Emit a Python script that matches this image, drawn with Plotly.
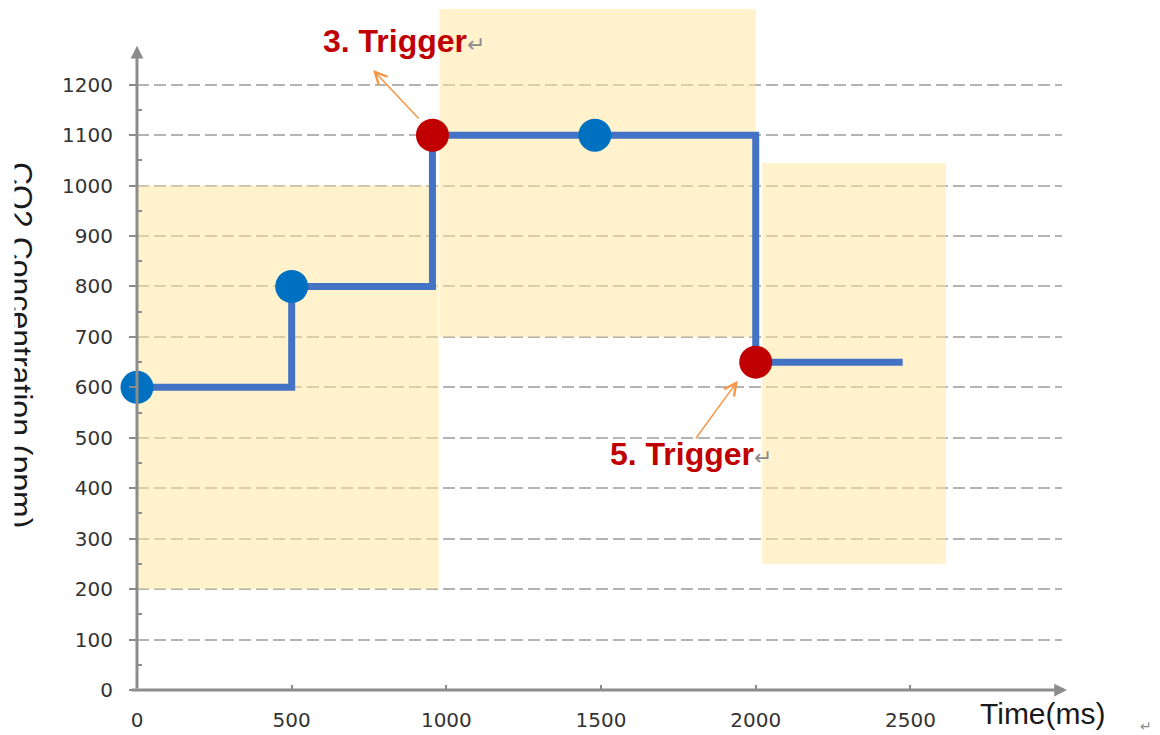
import plotly.graph_objects as go

# Step profile of CO2 concentration over time
step_time = [0, 500, 955, 2000, 2475]
step_ppm = [600, 800, 1100, 650, 650]

# Sample points (blue) and trigger points (red)
sample_time = [0, 500, 1480]
sample_ppm = [600, 800, 1100]
trigger_time = [955, 2000]
trigger_ppm = [1100, 650]

# Highlighted time windows: (x0, x1, y0, y1)
windows = [
    (0, 975, 200, 1000),
    (978, 2000, 700, 1350),
    (2021, 2615, 250, 1045),
]

y_ticks = list(range(0, 1201, 100))
y_minor = list(range(50, 1151, 100))
x_ticks = [0, 500, 1000, 1500, 2000, 2500]
x_tick_text = ["0", "500", "1000", "1500", "2000", "2500"]

AXIS_GRAY = "#8C8C8C"
TICK_FONT = dict(family="DejaVu Sans", size=20, color="#333333")
RETURN_MARK = "<span style='color:#8C8C8C;font-size:22px;font-weight:normal'>↵</span>"

fig = go.Figure()

fig.add_trace(go.Scatter(
    x=step_time, y=step_ppm, mode="lines", line_shape="hv",
    line=dict(color="#4472C4", width=7), hoverinfo="skip", showlegend=False,
    cliponaxis=False,
))
fig.add_trace(go.Scatter(
    x=sample_time, y=sample_ppm, mode="markers",
    marker=dict(size=33, color="#0070C0"), showlegend=False, cliponaxis=False,
))
fig.add_trace(go.Scatter(
    x=trigger_time, y=trigger_ppm, mode="markers",
    marker=dict(size=33, color="#C00000"), showlegend=False, cliponaxis=False,
))

for x0, x1, y0, y1 in windows:
    fig.add_shape(type="rect", xref="x", yref="y", x0=x0, x1=x1, y0=y0, y1=y1,
                  fillcolor="rgba(255,229,153,0.5)", line_width=0, layer="between")

annotations = [
    # axis lines with arrow heads
    dict(x=(1067 - 137) / 925, y=0, ax=-937, ay=0, xref="paper", yref="paper",
         axref="pixel", ayref="pixel",
         text="", showarrow=True, arrowhead=2, arrowsize=0.85, arrowwidth=3,
         arrowcolor=AXIS_GRAY, standoff=0),
    dict(x=0, y=1277, ax=0, ay=0, xref="x", yref="y", axref="x", ayref="y",
         text="", showarrow=True, arrowhead=2, arrowsize=0.85, arrowwidth=3,
         arrowcolor=AXIS_GRAY, standoff=0),
    # trigger call-outs
    dict(x=763, y=1229, ax=915, ay=1130, xref="x", yref="y", axref="x", ayref="y",
         text="", showarrow=True, arrowhead=5, arrowsize=1.6, arrowwidth=1.5,
         arrowcolor="#F79646", standoff=0),
    dict(x=1942, y=613, ax=1803, ay=496, xref="x", yref="y", axref="x", ayref="y",
         text="", showarrow=True, arrowhead=5, arrowsize=1.6, arrowwidth=1.5,
         arrowcolor="#F79646", standoff=0),
    dict(x=864, y=1286, xref="x", yref="y", showarrow=False, xanchor="center",
         text="<b>3. Trigger</b>" + RETURN_MARK,
         font=dict(family="Liberation Sans, Arial", size=32, color="#C00000")),
    dict(x=1790, y=467, xref="x", yref="y", showarrow=False, xanchor="center",
         text="<b>5. Trigger</b>" + RETURN_MARK,
         font=dict(family="Liberation Sans, Arial", size=32, color="#C00000")),
    # axis titles
    dict(x=(1043 - 137) / 925, y=(690 - 713) / 686, xref="paper", yref="paper",
         showarrow=False, xanchor="center", yanchor="middle", text="Time(ms)",
         font=dict(family="Liberation Sans, Arial", size=30, color="#1A1A1A")),
    dict(x=(1146 - 137) / 925, y=(690 - 726) / 686, xref="paper", yref="paper",
         showarrow=False, xanchor="center", yanchor="middle", text="↵",
         font=dict(family="DejaVu Sans", size=14, color="#8C8C8C")),
    dict(x=(21 - 137) / 925, y=(690 - 345) / 686, xref="paper", yref="paper",
         showarrow=False, xanchor="center", yanchor="middle", textangle=90,
         text="CO2 Concentration (ppm)",
         font=dict(family="Liberation Sans, Arial", size=32, color="#1A1A1A")),
    # left page edge of the title frame
    dict(x=(0 - 137) / 925, y=(690 - 345) / 686, xref="paper", yref="paper",
         showarrow=False, xanchor="left", yanchor="middle", text=" ",
         width=13, height=430, bgcolor="white", borderpad=0),
]

fig.update_layout(
    width=1160, height=735,
    margin=dict(l=137, r=98, t=4, b=45),
    paper_bgcolor="white", plot_bgcolor="white",
    annotations=annotations,
    xaxis=dict(
        range=[0, 2990], tickmode="array", tickvals=x_ticks, ticktext=x_tick_text,
        ticks="inside", ticklen=5, tickwidth=2, tickcolor=AXIS_GRAY,
        tickfont=TICK_FONT, ticklabelstandoff=16,
        showgrid=False, zeroline=False, showline=False,
    ),
    yaxis=dict(
        range=[0, 1360], tickmode="array", tickvals=y_ticks,
        ticks="outside", ticklen=7, tickwidth=2, tickcolor=AXIS_GRAY,
        tickfont=TICK_FONT, ticklabelstandoff=12,
        showgrid=True, gridcolor="#B4B4B4", gridwidth=2, griddash="12px,5px",
        zeroline=False, showline=False,
        minor=dict(tickvals=y_minor, ticks="inside", ticklen=5, tickwidth=2,
                   tickcolor=AXIS_GRAY, showgrid=False),
    ),
)

fig.write_html("out.html")
